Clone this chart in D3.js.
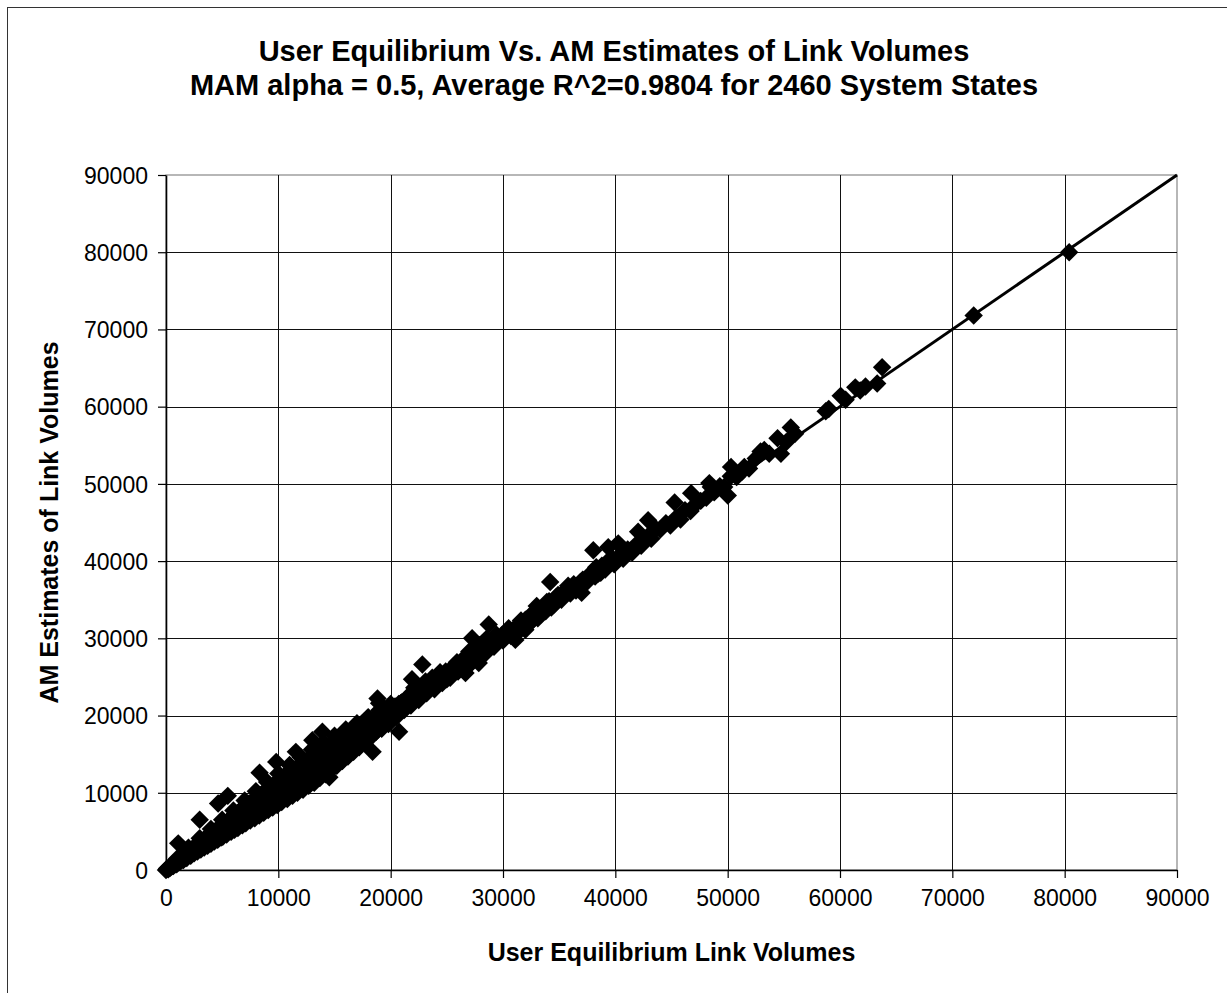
<!DOCTYPE html>
<html>
<head>
<meta charset="utf-8">
<script src="https://cdn.jsdelivr.net/npm/d3@7"></script>
<style>
  html, body { margin: 0; padding: 0; background: #fff; }
  svg { display: block; }
</style>
</head>
<body>
<svg id="chart" width="1227" height="993"></svg>
<script>
// ---- chart text ----
const titleLines = [
  "User Equilibrium Vs. AM Estimates of Link Volumes",
  "MAM alpha = 0.5, Average R^2=0.9804 for 2460 System States"
];
const xAxisTitle = "User Equilibrium Link Volumes";
const yAxisTitle = "AM Estimates of Link Volumes";

// ---- axis ticks (same on both axes) ----
const axisTicks = [0, 10000, 20000, 30000, 40000, 50000, 60000, 70000, 80000, 90000];

// ---- reference line: AM estimate equals UE volume ----
const equalityLine = [[0, 0], [90000, 90000]];

// ---- link volumes: [user equilibrium, AM estimate] ----
const lowVolumeLinks = [
  [0,0],[100,200],[200,100],[300,400],[350,250],[500,450],[600,800],[650,500],[800,750],[900,1150],
  [950,750],[1090,3450],[1100,1000],[1200,1500],[1250,1050],[1400,1300],[1500,1800],[1550,1300],[1700,1550],[1800,2200],
  [1850,1550],[2000,1850],[2100,2500],[2200,1850],[2300,2200],[2450,2900],[2500,2150],[2600,2500],[2700,3200],[2800,2400],
  [2900,2800],[3000,6500],[3050,3500],[3100,2650],[3200,3100],[3350,3900],[3400,2900],[3500,3400],[3600,4200],[3700,3150],
  [3800,3700],[3900,4600],[4000,3400],[4100,4000],[4200,4900],[4300,3700],[4400,4300],[4500,5200],[4600,3900],[4640,8600],
  [4700,4600],[4800,5600],[4900,4200],[5000,4900],
  [5050,4300],[5200,6100],[5300,5200],[5400,4600],[5500,9600],[5600,5500],[5700,6600],[5800,4950],[5900,5800],[6000,7000],
  [6100,5200],[6200,6100],[6300,7300],[6400,5450],[6500,6400],[6600,7700],[6800,5800],[6850,6700],[7000,8200],[7100,6050],
  [7200,7100],[7400,8600],[7500,6400],[7600,7500],[7800,9000],[7900,6700],[8000,7900],[8200,9500],[8330,12600],[8300,7050],
  [8400,8300],[8600,9900],[8700,7400],[8800,8700],[9000,10300],[9100,7750],[9200,9100],[9400,10800],[9500,8100],[9600,9500],
  [9810,14000],[9800,11200],[9900,8400],[10000,9900]
];

// the solid core of the band below 22000
const denseBandLinks = [
  [300,340],[320,370],[610,650],[590,720],[880,960],[920,1060],[1210,1260],[1190,1400],[1500,1560],[1520,1740],
  [1790,1910],[1820,2090],[2090,2230],[2110,2440],[2390,2510],[2420,2790],[2700,2860],[2680,3140],[3010,3150],[2990,3470],
  [3290,3480],[3310,3820],[3590,3770],[3620,4150],[3900,4110],[3880,4520],[4210,4400],[4190,4850],[4490,4740],[4520,5200],
  [4790,5050],[4810,5540],[5110,5350],[5090,5900],[5390,5690],[5420,6230],[5700,5980],[5680,6570],[6010,6290],[5990,6920],
  [6290,6630],[6320,7240],[6600,6920],[6580,7610],[6910,7260],[6890,7950],[7190,7570],[7220,8260],[7500,7870],[7480,8650],
  [7810,8200],[7790,8960],[8090,8520],[8120,9330],[8400,8810],[8380,9670],[8710,9150],[8690,10020],[8990,9440],[9020,10340],
  [9300,9780],[9280,10720],[9610,10070],[9590,11050],[9890,10410],[9920,11370],[10200,10700],[10180,11740],[10510,11040],[10490,12070],
  [10790,11350],[10820,12400],[11100,11650],[11080,12720],[11410,11980],[11390,12990],[11690,12280],[11720,13310],[12000,12610],[11980,13580],
  [12310,12930],[12290,13920],[12590,13220],[12620,14140],[12900,13560],[12880,14460],[13210,13850],[13190,14760],[13490,14190],[13520,15010],
  [13800,14480],[13780,15290],[14110,14810],[14090,15560],[14390,15090],[14420,15810],[14700,15410],[14680,16090],[15010,15690],[14990,16320],
  [15290,16010],[15320,16590],[15600,16290],[15580,16860],[15910,16610],[15890,17090],[16190,16890],[16220,17410],[16500,17210],[16480,17640],
  [16810,17490],[16790,17910],[17090,17810],[17120,18190],[17400,18090],[17380,18460],[17710,18410],[17690,18690],[17990,18710],[18020,19010],
  [18300,18990],[18280,19260],[18610,19310],[18590,19490],[18890,19610],[18920,19810],[19200,19890],[19180,20110],[19510,20210],[19490,20390],
  [19790,20410],[19820,20610],[20100,20690],[20080,20910],[20410,21010],[20390,21190],[20690,21210],[20720,21510],[21000,21390],[20980,21710],
  [21310,21710],[21290,21990],[21590,22010],[21620,22290],[21900,22310],[21880,22610],
  [1000,1500],[2000,2900],[3000,4100],[4000,5300],[5000,6500],[6000,7700],[7000,9000],[8000,10200],[9000,11400],[10000,12500],
  [11000,13600],[12000,14600],[13000,15600],[14000,16500],[15000,17400],[16000,18200],[17000,19000],[18000,19800],[19000,20700],[20000,21500]
];

const midVolumeLinks = [
  [10200,11700],[10300,8800],[10400,10300],[10600,12200],[10800,9200],[10900,10800],[11100,12700],[11260,9600],[11300,11200],[11560,15300],
  [11600,13200],[11700,10000],[11800,11700],[12000,13600],[12200,10400],[12300,12200],[12500,14200],[12700,10900],[12800,12700],[13030,16800],
  [13000,14800],[13200,11300],[13300,13200],[13500,15300],[13700,11900],[13800,13700],[13920,17900],[14000,15700],[14200,12400],[14300,14200],
  [14540,12000],[14500,16200],[14700,13000],[14800,14700],[15000,16600],[15200,13500],[15300,15200],[15500,17000],[15700,14100],[15800,15700],
  [16000,17500],[16200,14700],[16300,16200],[16500,17900],[16700,15300],[16800,16700],[17000,18300],[17200,15900],[17300,17200],[17500,18800],
  [17700,16500],[17800,17700],[18000,19300],[18390,15300],[18300,17300],[18500,19700],[18830,22200],[18970,21600],[18700,17900],[19000,20100],
  [19200,18300],[19400,19300],[19600,20600],[19800,18900],[20000,20000],
  [20200,21000],[20500,19800],[20750,17900],[20900,21600],[21200,20700],[21500,22400],[21900,24700],[21800,21300],[22200,22900],[22500,22000],
  [22820,26600],[22900,23700],[23200,22900],[23500,24300],[23900,23400],[24200,25000],[24600,24200],[24900,25700],[25300,24900],[25600,26400],
  [26000,25700],[26300,27100],[26660,25500],[26800,27400],[27250,30000],[27200,26800],[27600,28200],[27840,26800],[28000,28700],[28400,28000],
  [28730,31800],[28800,29300],[29200,28900],[29600,30100],[30000,29700],[30300,30700],[30700,30300],[31100,29800],[31100,31400],[31500,31000],
  [31990,31100],[32000,32400],[32400,32000],[32800,33400],[33100,32600],[33500,34000],[33800,33500],[34200,37300],[34100,34800],[34500,34300],
  [34900,35600],[35200,35000],[35600,36300],[36000,35800],[36300,37000],[36700,36500],[37000,35900],[37100,37600],[37400,37200],[37800,38400],
  [38040,41400],[38200,38000],[38500,38400],[38800,39400],[39100,38900],[39370,41800],[39500,40000],[39900,39600],
  [22100,23600],[22600,23300],[23100,24400],[23700,24900],[24000,24100],[24400,25600],[25000,24700],[25500,25400],[25900,26900],[26400,26100],
  [27000,28300],[27400,27200],[27900,29100],[28500,29900],[29000,29000],[29400,30500],[29900,30400],[30500,31300],[31000,30800],[31600,32300],
  [32200,31700],[32600,33200],[33000,34200],[33400,33100],[33900,34700],[34300,34000],[34700,35300],[35400,35800],[35800,36800],[36500,36200],
  [36900,37300],[37600,37800],[38300,39200],[38700,38500],[39200,39800],[39700,40400]
];

const highVolumeLinks = [
  [40260,42300],[40300,40600],[40700,40300],[41100,41500],[41500,41100],[42030,43800],[41900,42200],[42300,42000],[42920,45300],[42800,43100],
  [43200,42900],[43600,44200],[44000,44100],[44500,44900],[44900,44600],[45280,47600],[45400,45600],[45800,45400],[46200,46600],[46750,48800],
  [46700,46500],[47100,47300],[47600,47800],[48100,48200],[48370,50100],[48500,49600],[48800,48900],[49300,49700],[49690,49600],[50010,48500],
  [50280,51000],[50300,52200],[50800,50900],[51480,52200],[51300,51600],[51900,52000],[52500,53300],[52930,54200],[53260,54400],[53700,53900],
  [54440,55900],[54740,53900],[55200,55400],[55620,57300],[56000,56500],[58730,59400],[59000,59700],[60060,61400],[60500,60900],[61360,62500],
  [61800,62100],[62270,62600],[63310,63000],[63750,65100],
  [71900,71800],[80400,80000]
];

const allLinks = lowVolumeLinks.concat(denseBandLinks, midVolumeLinks, highVolumeLinks);

// ---- layout ----
const W = 1227, H = 993;
const plot = { left: 166, right: 1177, top: 175, bottom: 870 };
const fontFamily = "'Liberation Sans', Arial, Helvetica, sans-serif";

const svg = d3.select("#chart");

const x = d3.scaleLinear().domain([0, 90000]).range([plot.left, plot.right]);
const y = d3.scaleLinear().domain([0, 90000]).range([plot.bottom, plot.top]);

// outer chart frame
svg.append("rect")
  .attr("x", 7.5).attr("y", 7.5)
  .attr("width", W).attr("height", H)
  .attr("fill", "none").attr("stroke", "#333").attr("stroke-width", 1);

// plot-area border (top and right edges)
svg.append("rect")
  .attr("x", plot.left).attr("y", plot.top)
  .attr("width", plot.right - plot.left).attr("height", plot.bottom - plot.top)
  .attr("fill", "none").attr("stroke", "#888").attr("stroke-width", 1.2);

// gridlines
const inner = axisTicks.filter(d => d > 0 && d < 90000);
const grid = svg.append("g").attr("stroke", "#111").attr("stroke-width", 1);
grid.selectAll("line.v").data(inner).join("line")
  .attr("class", "v")
  .attr("x1", d => Math.round(x(d)) + 0.5).attr("x2", d => Math.round(x(d)) + 0.5)
  .attr("y1", plot.top).attr("y2", plot.bottom);
grid.selectAll("line.h").data(inner).join("line")
  .attr("class", "h")
  .attr("y1", d => Math.round(y(d)) + 0.5).attr("y2", d => Math.round(y(d)) + 0.5)
  .attr("x1", plot.left).attr("x2", plot.right);

// axes
const xAxis = svg.append("g")
  .attr("transform", `translate(0,${plot.bottom})`)
  .call(d3.axisBottom(x).tickValues(axisTicks).tickFormat(d3.format("d")).tickSize(8).tickSizeOuter(0).tickPadding(12));
const yAxis = svg.append("g")
  .attr("transform", `translate(${plot.left},0)`)
  .call(d3.axisLeft(y).tickValues(axisTicks).tickFormat(d3.format("d")).tickSize(8).tickSizeOuter(0).tickPadding(10));

[xAxis, yAxis].forEach(g => {
  g.select(".domain").attr("stroke", "#000").attr("stroke-width", 1.6);
  g.selectAll(".tick line").attr("stroke", "#000").attr("stroke-width", 1.2);
  g.selectAll(".tick text")
    .attr("fill", "#000")
    .style("font-family", fontFamily)
    .style("font-size", "23px");
});
yAxis.selectAll(".tick text").attr("dy", "0.36em");

// scatter markers: black diamonds
const diamond = d3.symbol().type(d3.symbolSquare).size(170);
svg.append("g").selectAll("path")
  .data(allLinks).join("path")
  .attr("d", diamond)
  .attr("transform", d => `translate(${x(d[0])},${y(d[1])}) rotate(45)`)
  .attr("fill", "#000");

// equality line
svg.append("path")
  .datum(equalityLine)
  .attr("d", d3.line().x(d => x(d[0])).y(d => y(d[1])))
  .attr("fill", "none")
  .attr("stroke", "#000")
  .attr("stroke-width", 3);

// chart title
svg.append("g").selectAll("text")
  .data(titleLines).join("text")
  .attr("x", 614)
  .attr("y", (d, i) => 61 + i * 34)
  .attr("text-anchor", "middle")
  .style("font-family", fontFamily)
  .style("font-weight", "bold")
  .style("font-size", "29px")
  .text(d => d);

// axis titles
svg.append("text")
  .attr("x", (plot.left + plot.right) / 2)
  .attr("y", 961)
  .attr("text-anchor", "middle")
  .style("font-family", fontFamily)
  .style("font-weight", "bold")
  .style("font-size", "25px")
  .text(xAxisTitle);

svg.append("text")
  .attr("transform", `translate(58,${(plot.top + plot.bottom) / 2}) rotate(-90)`)
  .attr("text-anchor", "middle")
  .style("font-family", fontFamily)
  .style("font-weight", "bold")
  .style("font-size", "25px")
  .text(yAxisTitle);
</script>
</body>
</html>
